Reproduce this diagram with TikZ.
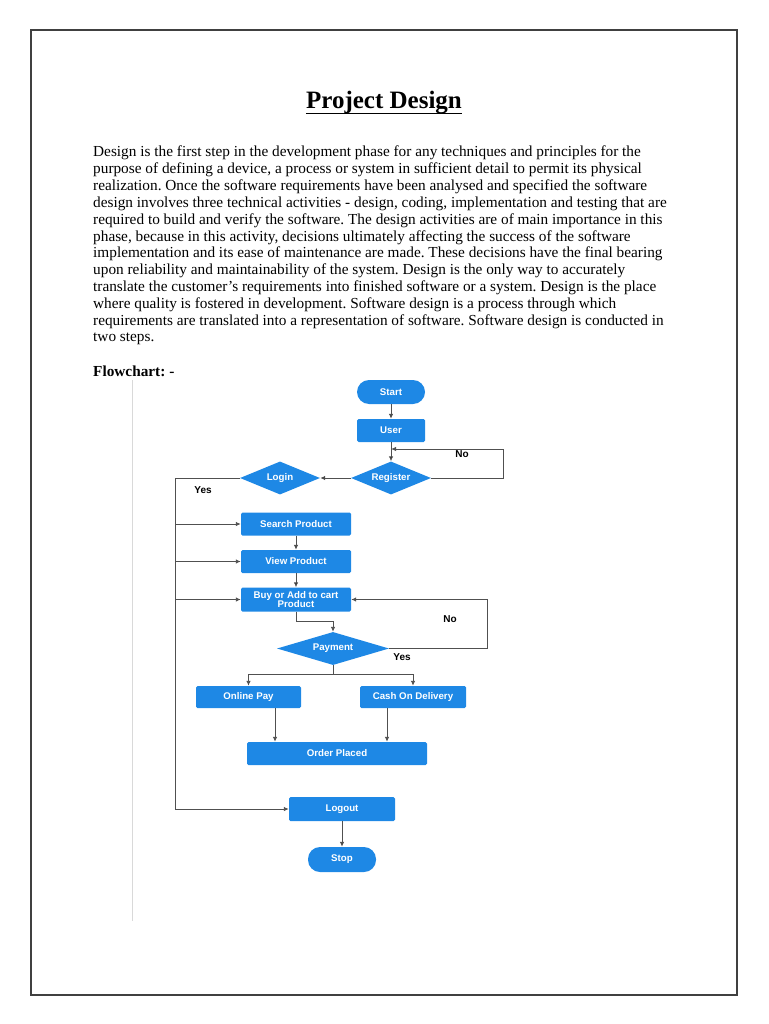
\documentclass[tikz,border=0pt]{standalone}
\usepackage{fontspec}
\setmainfont{Liberation Serif}
\setsansfont{Liberation Sans}
\usepackage{tikz}
\usetikzlibrary{shapes.geometric,arrows.meta}
\definecolor{flowblue}{RGB}{30,136,229}
\definecolor{linegray}{RGB}{80,80,80}

\begin{document}
\frenchspacing
\begin{tikzpicture}[x=1pt,y=-1pt,>={Latex[length=5pt,width=4.5pt]},
    process/.style={rectangle,rounded corners=1.5pt,fill=flowblue,text=white,
      font=\sffamily\bfseries\fontsize{9.7}{10}\selectfont,align=center,
      inner sep=0pt,minimum height=23pt},
    terminal/.style={process,rounded corners=12pt,minimum width=68pt,minimum height=24pt},
    decision/.style={diamond,fill=flowblue,text=white,
      font=\sffamily\bfseries\fontsize{9.7}{10}\selectfont,
      inner sep=0pt,aspect=2.4,minimum height=33pt},
    flowline/.style={draw=linegray,line width=0.9pt},
    answer/.style={font=\sffamily\bfseries\fontsize{10}{11}\selectfont},
    bodytext/.style={anchor=base west,inner sep=0pt,font=\fontsize{15.3}{16.8}\selectfont}]
    \useasboundingbox (0,0) rectangle (768,1024);
    % ------------------------------------------------------------------
    %                             PAGE
    % ------------------------------------------------------------------
    \draw[line width=1.4pt,black!75] (31,30) rectangle (737,995);
    \draw[black!15,line width=0.8pt] (132,380) -- (132,921);

    \node[anchor=base,inner sep=0pt,font=\bfseries\fontsize{25}{28}\selectfont] (title) at (384,108.5) {Project Design};
    \draw[line width=1.8pt] (title.base west |- 0,113.5) -- (title.base east |- 0,113.5);
    \foreach \txt [count=\i] in {
      {Design is the first step in the development phase for any techniques and principles for the},
      {purpose of defining a device, a process or system in sufficient detail to permit its physical},
      {realization. Once the software requirements have been analysed and specified the software},
      {design involves three technical activities - design, coding, implementation and testing that are},
      {required to build and verify the software. The design activities are of main importance in this},
      {phase, because in this activity, decisions ultimately affecting the success of the software},
      {implementation and its ease of maintenance are made. These decisions have the final bearing},
      {upon reliability and maintainability of the system. Design is the only way to accurately},
      {translate the customer’s requirements into finished software or a system. Design is the place},
      {where quality is fostered in development. Software design is a process through which},
      {requirements are translated into a representation of software. Software design is conducted in},
      {two steps.}}
      \node[bodytext] (line\i) at (93,{157+16.8*(\i-1)}) {\txt};
    \node[bodytext,font=\bfseries\fontsize{15.3}{16.8}\selectfont] (flowlabel) at (93,376) {Flowchart: -};

    % ------------------------------------------------------------------
    %                             NODES
    % ------------------------------------------------------------------
    % login part
    \node[terminal]                     (start)    at (391,392)   {Start};
    \node[process,minimum width=68pt]   (user)     at (391,430.5) {User};
    \node[decision,minimum width=80pt]  (register) at (391,478)   {Register};
    \node[decision,minimum width=80pt]  (login)    at (280,478)   {Login};
    % shopping
    \node[process,minimum width=110pt]  (search)   at (296,524)   {Search Product};
    \node[process,minimum width=110pt]  (view)     at (296,561.5) {View Product};
    \node[process,minimum width=110pt,minimum height=24pt] (buy) at (296,599.5) {Buy or Add to cart\\[-1pt]Product};
    \node[decision,minimum width=112pt] (payment)  at (333,648.5) {Payment};
    % paying
    \node[process,minimum width=105pt,minimum height=22pt] (online) at (248.5,697) {Online Pay};
    \node[process,minimum width=106pt,minimum height=22pt] (cash)   at (413,697)   {Cash On Delivery};
    \node[process,minimum width=180pt]  (order)    at (337,753.5) {Order Placed};
    % end
    \node[process,minimum width=106pt,minimum height=24pt] (logout) at (342,809) {Logout};
    \node[terminal,minimum height=25pt] (stop)     at (342,859.5) {Stop};

    % answers
    \node[answer] (noreg)    at (462,454) {No};
    \node[answer] (yeslogin) at (203,490.5) {Yes};
    \node[answer] (nopay)    at (450,619) {No};
    \node[answer] (yespay)   at (402,657) {Yes};

    % ------------------------------------------------------------------
    %                             EDGES
    % ------------------------------------------------------------------
    \coordinate (noin)   at (391,449);
    \coordinate (bustop) at (175,478);
    \path[flowline,->]
      (start)    edge (user)
      (user)     edge (register)
      (register) edge (login)
      (search)   edge (view)
      (view)     edge (buy)
      (logout)   edge (stop);
    % register again
    \draw[flowline,->] (register.east) -- ++(72,0) |- (noin);
    % left bus from login
    \draw[flowline,->] (login.west) -- (bustop) |- (logout.west);
    \foreach \target in {search,view,buy}
      \draw[flowline,->] (bustop |- \target.west) -- (\target.west);
    % payment
    \draw[flowline,->] (buy.south) -- ++(0,10) -| (payment.north);
    \draw[flowline,->] (payment.east) -- ++(98,0) |- (buy.east);
    \draw[flowline] (payment.south) -- ++(0,9) coordinate (split);
    \draw[flowline,->] (split) -| (online.north);
    \draw[flowline,->] (split) -| (cash.north);
    \draw[flowline,->] ([xshift=26.5]online.south) -- ([xshift=26.5]online.south |- order.north);
    \draw[flowline,->] ([xshift=-26]cash.south) -- ([xshift=-26]cash.south |- order.north);
\end{tikzpicture}
\end{document}
